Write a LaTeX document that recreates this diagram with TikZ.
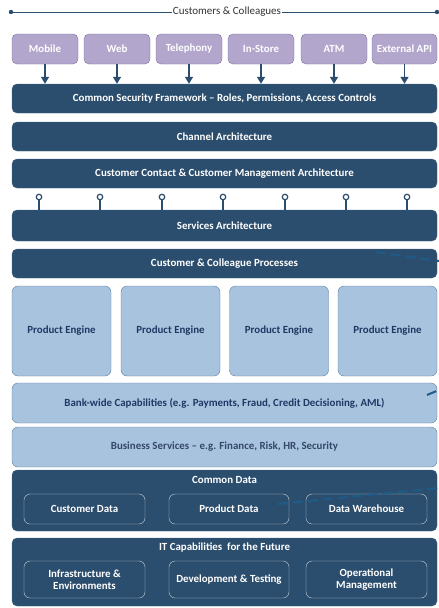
\documentclass[tikz,border=0pt]{standalone}
\usepackage{fontspec}
\setmainfont{Carlito}
\usetikzlibrary{arrows.meta}
\definecolor{barblue}{HTML}{2C4E6E}
\definecolor{barline}{HTML}{46678A}
\definecolor{lavender}{HTML}{B3A6CD}
\definecolor{lavline}{HTML}{7E70A2}
\definecolor{paleblue}{HTML}{A8C3DE}
\definecolor{paleline}{HTML}{5F80A3}
\definecolor{navytext}{HTML}{1F3864}
\definecolor{slatetext}{HTML}{34486A}
\definecolor{dashteal}{HTML}{1E5C88}
\begin{document}
\begin{tikzpicture}[x=1pt,y=-1pt,
    font=\bfseries\fontsize{10.9}{12.5}\selectfont,
    bar/.style={draw=barline, fill=barblue, rounded corners=5pt, text=white,
      minimum width=425pt, minimum height=29pt, inner sep=0pt},
    channel/.style={draw=lavline, fill=lavender, rounded corners=5pt, text=white,
      minimum width=66pt, minimum height=30pt, inner sep=0pt},
    engine/.style={draw=paleline, fill=paleblue, rounded corners=6pt, text=navytext,
      minimum width=99pt, minimum height=90pt, inner sep=0pt},
    lightbar/.style={engine, minimum width=425pt, minimum height=40pt},
    inbox/.style={draw=white!75!barblue, rounded corners=6pt, text=white, align=center,
      minimum width=121pt, inner sep=0pt, font=\bfseries\fontsize{10.9}{12.5}\selectfont},
    feed/.style={barblue, line width=1.4pt, -{Triangle[width=8pt,length=7pt]}},
    lolli/.style={barblue, line width=1.2pt},
    dashline/.style={dashteal, line width=2pt, dash pattern=on 10pt off 5pt}]
  \useasboundingbox (0,0) rectangle (439,608);

  % customers line
  \coordinate (cl) at (11,12);
  \coordinate (cr) at (437,12);
  \draw[barblue, line width=1pt] (cl) -- (cr);
  \fill[barblue] (cl) circle (2.2pt) (cr) circle (2.2pt);
  \node[fill=white, inner sep=1pt, text=black!80, font=\fontsize{11}{13}\selectfont]
    (cust) at (227,12) {Customers \& Colleagues};

  % channels
  \node[channel] (mobile) at (45,49) {Mobile};
  \node[channel] (web) at (117,49) {Web};
  \node[channel] (tel) at (189,49) {Telephony};
  \node[channel] (store) at (261,49) {In-Store};
  \node[channel] (atm) at (334,49) {ATM};
  \node[channel, minimum width=65pt] (api) at (404.5,49) {External API};

  % layers
  \node[bar] (sec) at (224.5,98.5) {Common Security Framework -- Roles, Permissions, Access Controls};
  \node[bar] (chan) at (224.5,136.5) {Channel Architecture};
  \node[bar] (contact) at (224.5,173.5) {Customer Contact \& Customer Management Architecture};
  \node[bar, minimum height=31pt] (services) at (224.5,225.5) {Services Architecture};
  \node[bar] (proc) at (224.5,263.5) {Customer \& Colleague Processes};

  \node[engine] (eng1) at (61.5,331) {Product Engine};
  \node[engine] (eng2) at (170.5,331) {Product Engine};
  \node[engine] (eng3) at (279,331) {Product Engine};
  \node[engine] (eng4) at (387.5,331) {Product Engine};

  \node[lightbar] (bank) at (224.5,403)
    {Bank-wide Capabilities (e.g. Payments, Fraud, Credit Decisioning, AML)};
  \node[lightbar, text=slatetext] (biz) at (224.5,447)
    {Business Services -- e.g. Finance, Risk, HR, Security};

  \node[bar, minimum height=61pt] (cdata) at (224.5,500.5) {};
  \node[text=white] (cdtitle) at (224.5,480) {Common Data};
  \node[inbox, minimum height=30pt] (custdata) at (84.5,509) {Customer Data};
  \node[inbox, minimum height=30pt, minimum width=120pt] (proddata) at (229,509) {Product Data};
  \node[inbox, minimum height=30pt] (dwh) at (366.5,509) {Data Warehouse};

  \node[bar, minimum height=68pt] (itcap) at (224.5,572) {};
  \node[text=white] (ittitle) at (224.5,548) {IT Capabilities \ for the Future};
  \node[inbox, minimum height=37pt] (infra) at (84.5,579.5) {Infrastructure \&\\Environments};
  \node[inbox, minimum height=37pt, minimum width=120pt] (devtest) at (229,579.5) {Development \& Testing};
  \node[inbox, minimum height=37pt] (opman) at (366.5,579.5) {Operational\\Management};

  % channel feeds
  \foreach \c in {mobile,web,tel,store,atm,api}
    \draw[feed] (\c) -- (\c |- sec.north);

  % service lollipops
  \foreach \x [count=\i] in {39,100,162,223,285,346,407} {
    \node[circle, draw=barblue, line width=1.2pt, fill=white, inner sep=0pt,
      minimum size=5.5pt] (pin\i) at (\x,197) {};
    \draw[lolli] (pin\i) -- (pin\i |- services.north);
  }

  % cut-off dashed lines
  \draw[dashline] (376,252) -- (439,261);
  \draw[dashline] (427,395) -- (439,390);
  \draw[dashline] (278,504) -- (439,488);
\end{tikzpicture}
\end{document}
